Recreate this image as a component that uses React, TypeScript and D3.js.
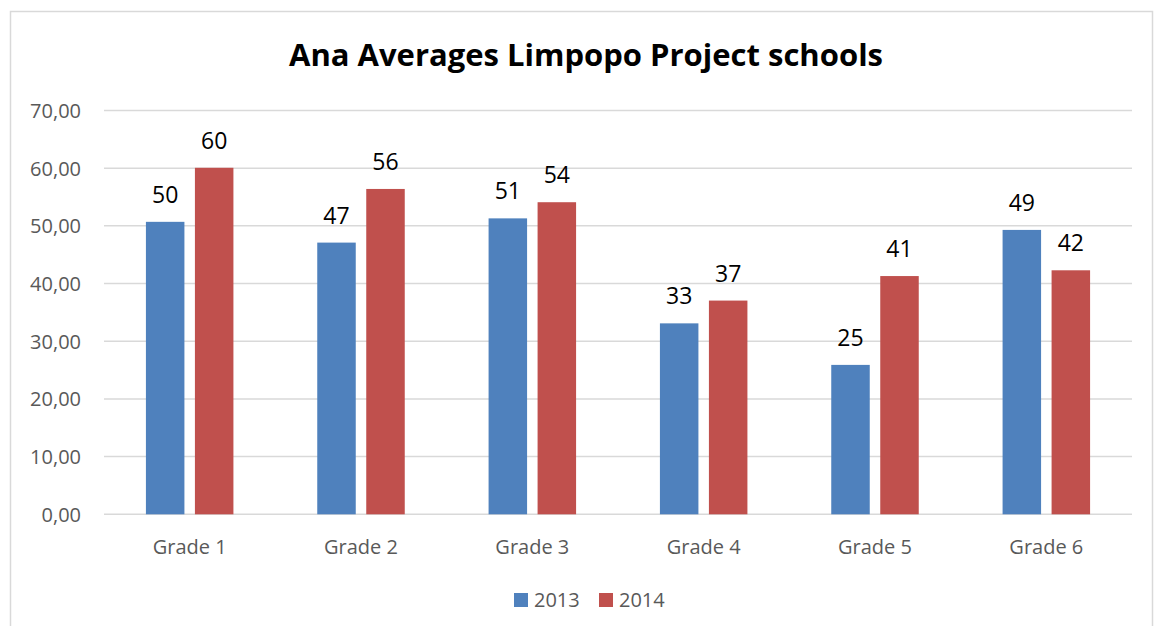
import React from "react";
import * as d3 from "d3";

const grades = ["Grade 1", "Grade 2", "Grade 3", "Grade 4", "Grade 5", "Grade 6"];
const series = ["2013", "2014"];
const values2013 = [50.7, 47.1, 51.3, 33.1, 25.9, 49.3];
const values2014 = [60.07, 56.4, 54.1, 37.05, 41.3, 42.3];
const yTicks = [0, 10, 20, 30, 40, 50, 60, 70];
const colors = ["#4F81BD", "#C0504D"];

const App = () => {
  const width = 1155,
    height = 626;
  const left = 104,
    right = 1132,
    top = 110.5,
    bottom = 514.3;
  const font = "'Open Sans', 'Liberation Sans', sans-serif";

  const x = d3.scaleBand().domain(grades).range([left, right]);
  const y = d3.scaleLinear().domain([0, 70]).range([bottom, top]);
  const barW = 38.5;
  const offsets = [-24.5, 24.5];
  const fmt = (v: number) => d3.format(".2f")(v).replace(".", ",");
  const data = [values2013, values2014];

  return (
    <svg
      width={width}
      height={height}
      style={{ position: "absolute", left: 0, top: 0, background: "#fff" }}
    >
      <rect x={10.5} y={11.5} width={1142} height={640} fill="#fff" stroke="#d9d9d9" strokeWidth={1.5} />
      <text x={586} y={66} textAnchor="middle" fontFamily={font} fontWeight="bold" fontSize={31} fill="#000">
        Ana Averages Limpopo Project schools
      </text>
      {yTicks.map((t) => (
        <g key={t}>
          <line x1={left} x2={right} y1={y(t)} y2={y(t)} stroke="#d9d9d9" strokeWidth={1.5} />
          <text x={81} y={y(t) + 7.5} textAnchor="end" fontFamily={font} fontSize={20} fill="#595959">
            {fmt(t)}
          </text>
        </g>
      ))}
      {data.map((vals, si) =>
        vals.map((v, i) => {
          const cx = (x(grades[i]) as number) + x.bandwidth() / 2 + offsets[si];
          return (
            <g key={si + "-" + i}>
              <rect x={cx - barW / 2} y={y(v)} width={barW} height={y(0) - y(v)} fill={colors[si]} />
              <text x={cx} y={y(v) - 19} textAnchor="middle" fontFamily={font} fontSize={23} fill="#000">
                {Math.floor(v)}
              </text>
            </g>
          );
        })
      )}
      {grades.map((g) => (
        <text
          key={g}
          x={(x(g) as number) + x.bandwidth() / 2}
          y={554}
          textAnchor="middle"
          fontFamily={font}
          fontSize={20}
          fill="#595959"
        >
          {g}
        </text>
      ))}
      {series.map((s, i) => (
        <g key={s} transform={`translate(${514 + i * 85},0)`}>
          <rect x={0} y={593} width={14} height={14} fill={colors[i]} />
          <text x={20} y={607} fontFamily={font} fontSize={20} fill="#595959">
            {s}
          </text>
        </g>
      ))}
    </svg>
  );
};

export default App;
